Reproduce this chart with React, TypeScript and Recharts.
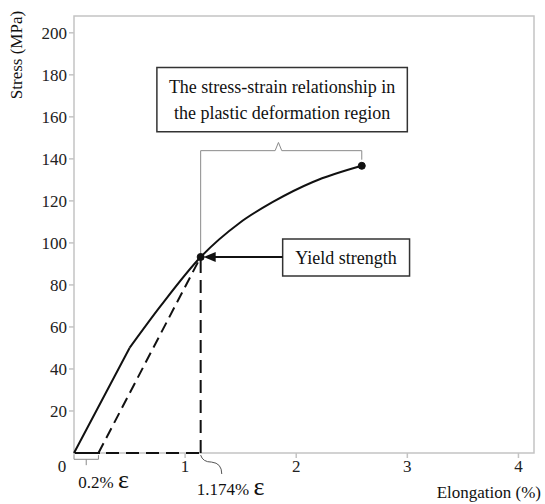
import React from "react";
import {
  ComposedChart,
  Line,
  XAxis,
  YAxis,
  ReferenceArea,
  ReferenceLine,
  ReferenceDot,
} from "recharts";

// elongation (%) vs stress (MPa)
const strain = [0, 0.25, 0.5, 0.78, 1.14, 1.49, 1.79, 2.15, 2.59];
const stress = [0, 25, 50, 70, 93.3, 109.5, 119.5, 129, 136.7];

const xTicks = [0, 1, 2, 3, 4];
const yTicks = [20, 40, 60, 80, 100, 120, 140, 160, 180, 200];

const yieldStrain = 1.14;
const yieldStress = 93.3;
const offsetStrain = 0.22;
const endStrain = strain[strain.length - 1];
const endStress = stress[stress.length - 1];

const plasticText = [
  "The stress-strain relationship in",
  "the plastic deformation region",
];
const yieldText = "Yield strength";
const offsetText = "0.2% ";
const yieldStrainText = "1.174% ";

const FONT = "'Liberation Serif', 'Times New Roman', serif";
const GRAY = "#c4c4c4";
const BRACE = "#8a8a8a";

const curveData = strain.map((x, i) => ({ x, y: stress[i] }));
const elasticData = curveData.slice(0, 3);
const plasticData = curveData.slice(2);
const offsetData = [
  { x: offsetStrain, y: 0 },
  { x: yieldStrain, y: yieldStress },
];
const baseData = [
  { x: 0, y: 0 },
  { x: yieldStrain, y: 0 },
];
const dropData = [
  { x: yieldStrain, y: 0 },
  { x: yieldStrain, y: yieldStress },
];

const boxLabel = (lines: string[], size: number, lh: number) => (props: any) => {
  const vb = props.viewBox;
  const cx = vb.x + vb.width / 2;
  const cy = vb.y + vb.height / 2;
  return (
    <text textAnchor="middle" fontSize={size} fontFamily={FONT} fill="#111">
      {lines.map((l, i) => (
        <tspan key={i} x={cx} y={cy + (i - (lines.length - 1) / 2) * lh + size * 0.34}>
          {l}
        </tspan>
      ))}
    </text>
  );
};

const XTick = (p: any) => (
  <text
    x={p.payload.value === 0 ? p.x - 12 : p.x}
    y={p.y}
    dy="0.71em"
    textAnchor="middle"
    fontSize={17}
    fontFamily={FONT}
    fill="#222"
  >
    {p.payload.value}
  </text>
);

const Arrow = (p: any) => {
  const tipX = p.x2 + 3;
  return (
    <g>
      <line x1={p.x1} y1={p.y1} x2={tipX + 10} y2={p.y2} stroke="#111" strokeWidth={2} />
      <polygon
        points={`${tipX},${p.y2} ${tipX + 12},${p.y2 - 5} ${tipX + 12},${p.y2 + 5}`}
        fill="#111"
      />
    </g>
  );
};

const Leader = (p: any) => (
  <path
    d={`M${p.x1},${p.y1} Q${p.x1 + 2},${p.y1 + 7} ${p.x1 + 11},${p.y1 + 7} Q${p.x2},${p.y1 + 8} ${p.x2},${p.y2}`}
    fill="none"
    stroke="#555"
    strokeWidth={1}
  />
);

const epsLabel = (txt: string, dx: number, dy: number) => (p: any) => (
  <text x={p.cx + dx} y={p.cy + dy} fontSize={17} fontFamily={FONT} fill="#111">
    {txt}
    <tspan fontSize={26}>ε</tspan>
  </text>
);

export default function App() {
  return (
    <div style={{ position: "absolute", left: 0, top: 0 }}>
      <ComposedChart
        width={545}
        height={504}
        margin={{ top: 16, right: 11, bottom: 21, left: 14 }}
      >
        <ReferenceArea
          x1={0}
          x2={4.14}
          y1={0}
          y2={208}
          fill="none"
          stroke={GRAY}
          strokeWidth={1.5}
        />
        <XAxis
          type="number"
          dataKey="x"
          domain={[0, 4.14]}
          ticks={xTicks}
          height={30}
          tickSize={5}
          axisLine={false}
          tick={<XTick />}
          tickLine={{ stroke: GRAY, strokeWidth: 1.5 }}
          label={{
            content: (p: any) => (
              <text
                x={p.viewBox.x + p.viewBox.width + 7}
                y={p.viewBox.y + 45}
                textAnchor="end"
                fontSize={17}
                fontFamily={FONT}
                fill="#111"
              >
                Elongation (%)
              </text>
            ),
          }}
        />
        <YAxis
          type="number"
          domain={[0, 208]}
          ticks={yTicks}
          width={60}
          tickSize={5}
          axisLine={false}
          tickLine={{ stroke: GRAY, strokeWidth: 1.5 }}
          tick={{ fontSize: 17, fontFamily: FONT, fill: "#222" }}
          label={{
            content: (p: any) => (
              <text
                transform={`translate(${p.viewBox.x + 8}, ${p.viewBox.y + 39}) rotate(-90)`}
                textAnchor="middle"
                fontSize={17}
                fontFamily={FONT}
                fill="#111"
              >
                Stress (MPa)
              </text>
            ),
          }}
        />

        {/* brace over the plastic region */}
        <ReferenceLine segment={[{ x: yieldStrain, y: yieldStress }, { x: yieldStrain, y: 143.9 }]} stroke={BRACE} />
        <ReferenceLine segment={[{ x: yieldStrain, y: 143.9 }, { x: 1.81, y: 143.9 }]} stroke={BRACE} />
        <ReferenceLine segment={[{ x: 1.81, y: 143.9 }, { x: 1.84, y: 147.8 }]} stroke={BRACE} />
        <ReferenceLine segment={[{ x: 1.84, y: 147.8 }, { x: 1.87, y: 143.9 }]} stroke={BRACE} />
        <ReferenceLine segment={[{ x: 1.87, y: 143.9 }, { x: endStrain, y: 143.9 }]} stroke={BRACE} />
        <ReferenceLine segment={[{ x: endStrain, y: 143.9 }, { x: endStrain, y: 139.6 }]} stroke={BRACE} />

        <ReferenceArea
          x1={0.746}
          x2={3.0}
          y1={152.9}
          y2={183.5}
          fill="#fff"
          fillOpacity={1}
          stroke="#333"
          strokeWidth={1.5}
          label={boxLabel(plasticText, 18, 26)}
        />
        <ReferenceArea
          x1={1.878}
          x2={3.02}
          y1={84.3}
          y2={101.9}
          fill="#fff"
          fillOpacity={1}
          stroke="#333"
          strokeWidth={1.5}
          label={boxLabel([yieldText], 18, 26)}
        />

        <Line
          data={baseData}
          dataKey="y"
          stroke="#111"
          strokeWidth={2}
          strokeDasharray="26 6 13 7 13 7 13 7 13 7 13 7 13 7"
          dot={false}
          isAnimationActive={false}
        />
        <Line data={dropData} dataKey="y" stroke="#111" strokeWidth={2} strokeDasharray="13 7" dot={false} isAnimationActive={false} />
        <Line data={offsetData} dataKey="y" stroke="#111" strokeWidth={2} strokeDasharray="11 6" dot={false} isAnimationActive={false} />
        <Line data={elasticData} dataKey="y" type="linear" stroke="#111" strokeWidth={2} dot={false} isAnimationActive={false} />
        <Line data={plasticData} dataKey="y" type="monotone" stroke="#111" strokeWidth={2} dot={false} isAnimationActive={false} />

        <ReferenceLine
          segment={[{ x: 1.878, y: yieldStress }, { x: yieldStrain, y: yieldStress }]}
          shape={<Arrow />}
        />
        <ReferenceDot x={yieldStrain} y={yieldStress} r={3.5} fill="#111" stroke="#111" />
        <ReferenceDot x={endStrain} y={endStress} r={3.5} fill="#111" stroke="#111" />

        {/* 0.2% offset bracket under the axis */}
        <ReferenceLine ifOverflow="visible" segment={[{ x: 0, y: -1 }, { x: 0, y: -3 }]} stroke={BRACE} />
        <ReferenceLine ifOverflow="visible" segment={[{ x: 0, y: -3 }, { x: offsetStrain, y: -3 }]} stroke={BRACE} />
        <ReferenceLine ifOverflow="visible" segment={[{ x: offsetStrain, y: -3 }, { x: offsetStrain, y: -1 }]} stroke={BRACE} />
        <ReferenceLine ifOverflow="visible" segment={[{ x: offsetStrain / 2, y: -3 }, { x: offsetStrain / 2, y: -5.8 }]} stroke={BRACE} />
        <ReferenceDot
          ifOverflow="visible"
          x={offsetStrain / 2}
          y={-5.8}
          r={0}
          shape={epsLabel(offsetText, -8, 23)}
        />

        <ReferenceLine
          ifOverflow="visible"
          segment={[{ x: yieldStrain, y: -1 }, { x: 1.33, y: -10 }]}
          shape={<Leader />}
        />
        <ReferenceDot
          ifOverflow="visible"
          x={1.33}
          y={-10}
          r={0}
          shape={epsLabel(yieldStrainText, -25, 21)}
        />
      </ComposedChart>
    </div>
  );
}
